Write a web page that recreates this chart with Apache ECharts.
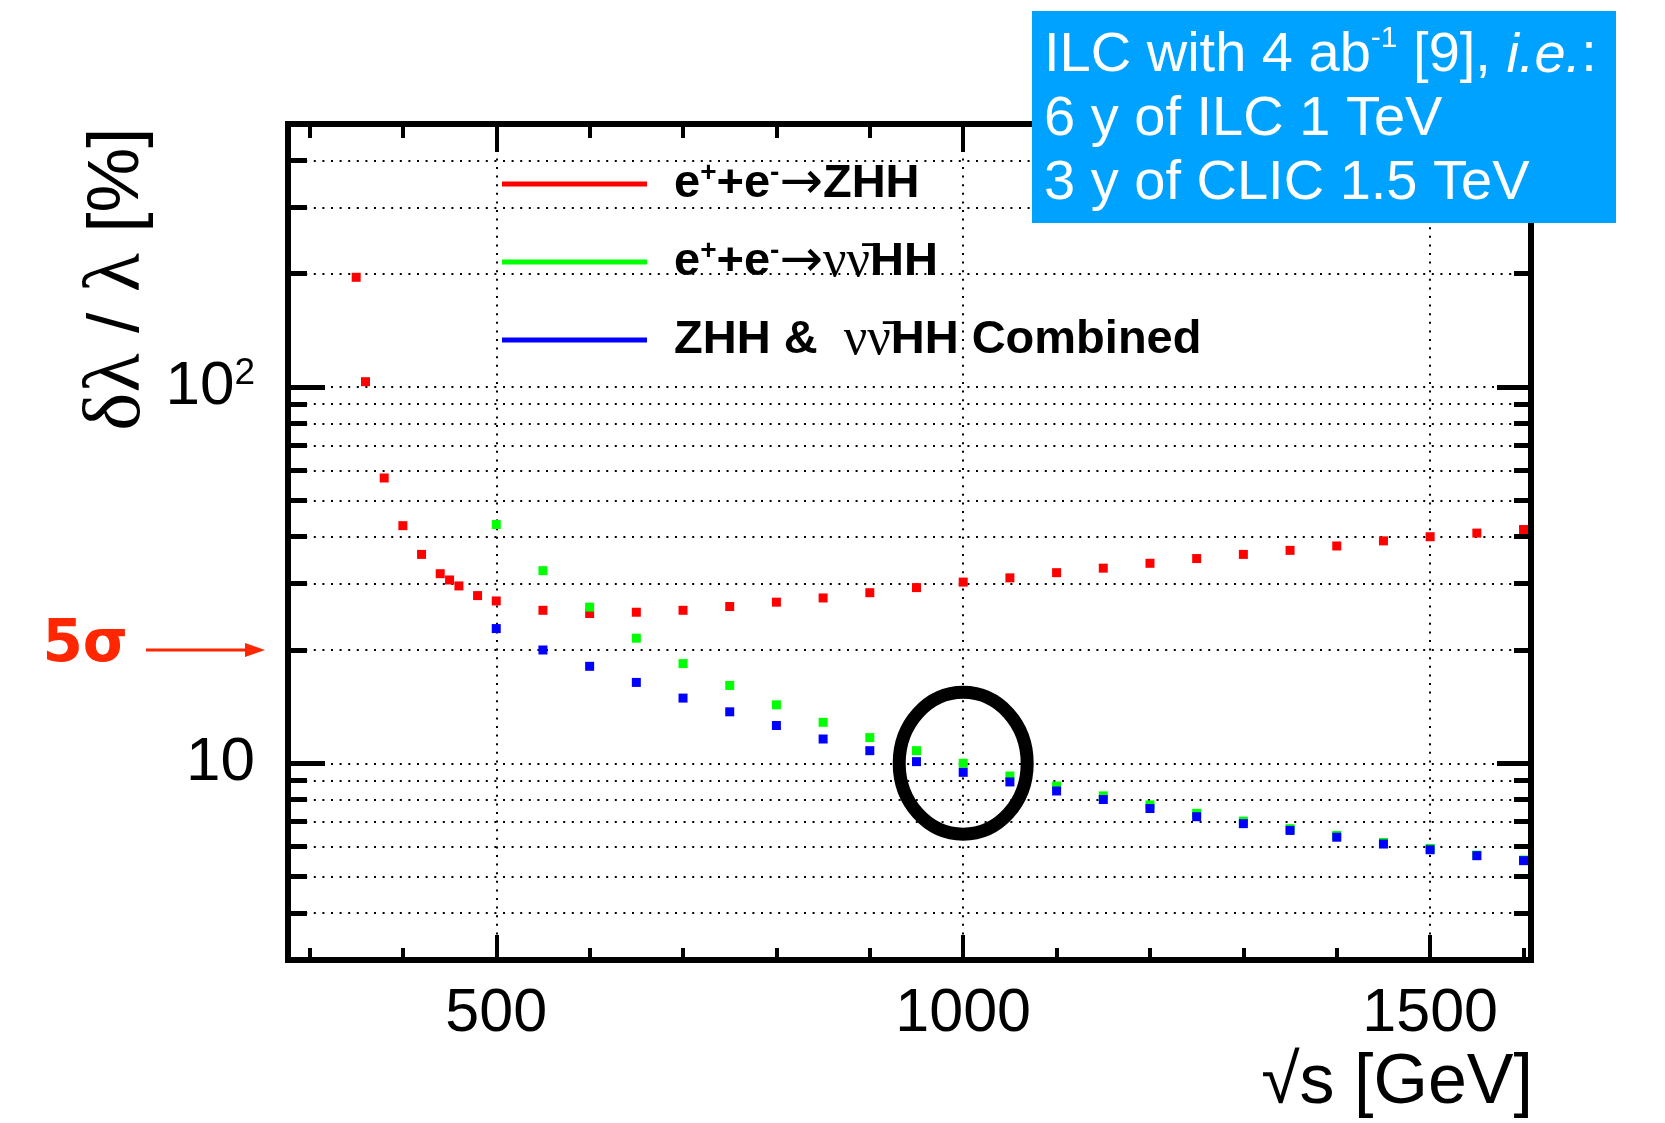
<!DOCTYPE html>
<html><head><meta charset="utf-8">
<script src="https://cdn.jsdelivr.net/npm/echarts@6/dist/echarts.min.js"></script>
<style>html,body{margin:0;padding:0;background:#fff}#chart{width:1665px;height:1123px}</style>
</head><body><div id="chart"></div>
<script>
// ---- data ----
const energyZHH = [350,360,380,400,420,440,450,460,480,500,550,600,650,700,750,800,850,900,950,1000,1050,1100,1150,1200,1250,1300,1350,1400,1450,1500,1550,1600];
const precisionZHH = [195.7,103.3,57.3,42.8,35.9,31.9,30.7,29.6,27.9,27.0,25.5,25.0,25.2,25.5,26.1,26.8,27.5,28.4,29.3,30.3,31.1,32.1,33.0,34.0,35.0,35.9,36.8,37.8,39.0,40.0,40.9,41.8];
const energyVVHH = [500,550,600,650,700,750,800,850,900,950,1000,1050,1100,1150,1200,1250,1300,1350,1400,1450,1500,1550,1600];
const precisionVVHH = [43.1,32.5,26.0,21.5,18.4,16.1,14.3,12.85,11.7,10.8,10.0,9.25,8.70,8.19,7.75,7.36,7.02,6.70,6.43,6.16,5.94,5.70,5.53];
const precisionCombined = [22.8,20.0,18.1,16.4,14.9,13.7,12.6,11.6,10.8,10.1,9.46,8.92,8.44,8.01,7.58,7.21,6.91,6.63,6.36,6.10,5.89,5.68,5.51];
const xMajorTicks = [500,1000,1500];
const xMinorTicks = [300,400,600,700,800,900,1100,1200,1300,1400,1600];
const yMajorTicks = [10,100];
const yMinorTicks = [4,5,6,7,8,9,20,30,40,50,60,70,80,90,200,300,400];
const xRange = [277,1608];
const yRange = [3,500];
const highlightPoint = [[1000,10]];
const fiveSigmaLevel = [[1000,20]];
const seriesNames = ['e+e-→ZHH','e+e-→νν̄HH','ZHH & νν̄HH Combined'];

const pairs = (xs, ys) => xs.map((x,i)=>[x, ys[i]]);
const dots = {show:true, lineStyle:{color:'#000', width:2, type:[2,6.6]}};
const frame = {show:true, onZero:false, lineStyle:{color:'#000', width:6, cap:'square'}};
const none = {show:false};

function xAx(pos, ticks, len, opts){
  return Object.assign({
    type:'value', position:pos, min:xRange[0], max:xRange[1],
    axisLine: none,
    axisTick:{show:true, inside:true, length:len, customValues:ticks, lineStyle:{color:'#000', width:4}},
    axisLabel: none, splitLine: none
  }, opts||{});
}
function yAx(pos, ticks, len, opts){
  return Object.assign({
    type:'log', logBase:10, position:pos, min:yRange[0], max:yRange[1],
    axisLine: none,
    axisTick:{show:true, inside:true, length:len, customValues:ticks, lineStyle:{color:'#000', width:5}},
    axisLabel: none, splitLine: none
  }, opts||{});
}

const legendText = {};
legendText[seriesNames[0]] = '{gap| }{b|e}{sup|+}{b|+e}{sup|-}{ar|→}{b|ZHH}';
legendText[seriesNames[1]] = '{gap| }{b|e}{sup|+}{b|+e}{sup|-}{ar|→}{nu|νν̄}{b|HH}';
legendText[seriesNames[2]] = '{gap| }{b|ZHH &  }{nu|νν̄}{b|HH Combined}';

const chart = echarts.init(document.getElementById('chart'), null, {renderer:'canvas'});
chart.setOption({
  animation:false,
  backgroundColor:'#fff',
  grid:{left:288, right:134, top:124, bottom:163, containLabel:false, outerBoundsMode:'none'},
  xAxis:[
    xAx('bottom', xMajorTicks, 25, {
      axisLine: frame,
      axisLabel:{show:true, customValues:xMajorTicks, margin:24, fontSize:61, fontFamily:'Liberation Sans', color:'#000',
        formatter: v => String(Math.round(v))},
      splitLine: dots
    }),
    xAx('bottom', xMinorTicks, 12),
    xAx('top', xMajorTicks, 28, {axisLine: frame}),
    xAx('top', xMinorTicks, 14)
  ],
  yAxis:[
    yAx('left', yMajorTicks, 37, {
      axisLine: frame,
      axisLabel:{show:true, customValues:yMajorTicks, margin:33, color:'#000',
        formatter: v => Math.round(v) === 100 ? '{n|10}{s|2}' : '{n|10}',
        rich:{ n:{fontSize:62, fontFamily:'Liberation Sans', color:'#000', lineHeight:64},
               s:{fontSize:37, fontFamily:'Liberation Sans', color:'#000', verticalAlign:'top', lineHeight:36}}},
      splitLine: dots
    }),
    yAx('left', yMinorTicks, 19, {splitLine: dots}),
    yAx('right', yMajorTicks, 34, {axisLine: frame}),
    yAx('right', yMinorTicks, 17)
  ],
  legend:{
    data: seriesNames.map(n=>({name:n, icon:'rect'})),
    orient:'vertical', left:502, top:158, padding:0,
    itemWidth:145, itemHeight:5, itemGap:26, selectedMode:false,
    formatter: name => legendText[name],
    textStyle:{ color:'#000', rich:{
      gap:{width:22, fontSize:10},
      b:{fontSize:47, fontWeight:'bold', fontFamily:'Liberation Sans', color:'#000', lineHeight:50},
      sup:{fontSize:28, fontWeight:'bold', fontFamily:'Liberation Sans', color:'#000', verticalAlign:'top', lineHeight:34},
      ar:{fontSize:52, fontFamily:'DejaVu Sans', color:'#000', lineHeight:50},
      nu:{fontSize:52, fontFamily:'Liberation Serif', color:'#000', lineHeight:50}
    }}
  },
  series:[
    {name:seriesNames[0], type:'scatter', data:pairs(energyZHH, precisionZHH), symbol:'rect', symbolSize:9, itemStyle:{color:'#ff0000', opacity:1}, z:3},
    {name:seriesNames[1], type:'scatter', data:pairs(energyVVHH, precisionVVHH), symbol:'rect', symbolSize:9, itemStyle:{color:'#00ff00', opacity:1}, z:4},
    {name:seriesNames[2], type:'scatter', data:pairs(energyVVHH, precisionCombined), symbol:'rect', symbolSize:9, itemStyle:{color:'#0000ff', opacity:1}, z:5},
    {name:'highlight', type:'custom', data:highlightPoint, silent:true, z:6, clip:false,
      renderItem:(params, api)=>{
        const c = api.coord([api.value(0), api.value(1)]);
        return {type:'ellipse', shape:{cx:c[0], cy:c[1], rx:64, ry:71}, style:{fill:null, stroke:'#000', lineWidth:13}};
      }},
    {name:'fiveSigma', type:'custom', data:fiveSigmaLevel, silent:true, z:6, clip:false,
      renderItem:(params, api)=>{
        const p = api.coord([api.value(0), api.value(1)]);
        const x0 = params.coordSys.x, y = p[1];
        return {type:'group', children:[
          {type:'line', shape:{x1:x0-142, y1:y, x2:x0-38, y2:y}, style:{stroke:'#ff2600', lineWidth:3}},
          {type:'polygon', shape:{points:[[x0-23,y],[x0-43,y-7],[x0-43,y+7]]}, style:{fill:'#ff2600'}},
          {type:'text', style:{text:'5σ', x:x0-160, y:y-4, align:'right', verticalAlign:'middle', fontSize:58, fontWeight:'bold', fontFamily:'DejaVu Sans', fill:'#ff2600'}}
        ]};
      }}
  ],
  graphic:[
    {type:'text', x:118, y:279, rotation:Math.PI/2, z:10,
      style:{text:'{g|δλ} / {g|λ} [%]', align:'center', verticalAlign:'middle', fill:'#000',
        fontSize:73, fontFamily:'Liberation Sans',
        rich:{g:{fontSize:81, fontFamily:'Liberation Serif', fill:'#000'}}}},
    {type:'text', x:1533, y:1049, z:10,
      style:{text:'√s [GeV]', align:'right', verticalAlign:'top', fill:'#000', fontSize:70, fontFamily:'Liberation Sans'}},
    {type:'rect', x:1032, y:11, z:10, shape:{x:0, y:0, width:584, height:212}, style:{fill:'#00a2ff'}},
    {type:'text', x:1044, y:24, z:11,
      style:{text:'{n|ILC with 4 ab}{s|-1}{n| [9], }{i|i.e.}{n|:}\n{n|6 y of ILC 1 TeV}\n{n|3 y of CLIC 1.5 TeV}',
        align:'left', verticalAlign:'top', fill:'#fff',
        rich:{
          n:{fontSize:56, fontFamily:'Liberation Sans', fill:'#fff', lineHeight:64},
          s:{fontSize:30, fontFamily:'Liberation Sans', fill:'#fff', verticalAlign:'top', lineHeight:44},
          i:{fontSize:56, fontFamily:'Liberation Sans', fontStyle:'italic', fill:'#fff', lineHeight:64}
        }}}
  ]
});
</script></body></html>
